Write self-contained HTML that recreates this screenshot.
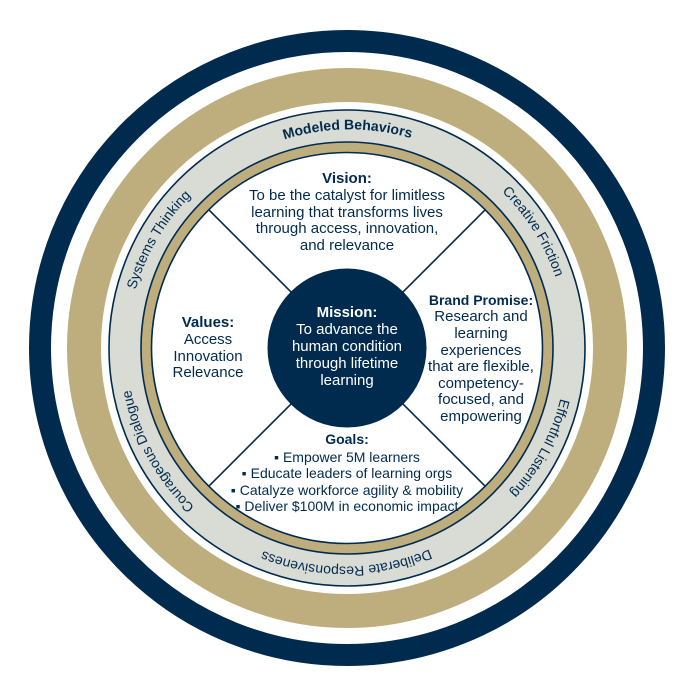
<!DOCTYPE html>
<html><head><meta charset="utf-8"><style>
html,body{margin:0;padding:0;background:#fff;}
svg{display:block;font-family:"Liberation Sans",Arial,sans-serif;}
</style></head><body>
<svg width="694" height="694" viewBox="0 0 694 694" xmlns="http://www.w3.org/2000/svg">
<defs>
<path id="ring" d="M455.5,535.9 A217,217 0 1 1 238.5,160.1 A217,217 0 1 1 455.5,535.9"/>
</defs>
<rect width="694" height="694" fill="#fff"/>
<circle cx="347" cy="348" r="307" fill="none" stroke="#002b4f" stroke-width="22"/>
<circle cx="347" cy="348" r="263" fill="none" stroke="#bfae7d" stroke-width="34"/>
<circle cx="347" cy="348" r="222" fill="none" stroke="#d8dcd5" stroke-width="32"/>
<circle cx="347" cy="348" r="238" fill="none" stroke="#002b4f" stroke-width="1.6"/>
<circle cx="347" cy="348" r="201" fill="none" stroke="#bfae7d" stroke-width="10"/>
<circle cx="347" cy="348" r="206" fill="none" stroke="#002b4f" stroke-width="1.6"/>
<circle cx="347" cy="348" r="195.5" fill="none" stroke="#002b4f" stroke-width="1.6"/>
<g stroke="#002b4f" stroke-width="1.6">
<line x1="291.1" y1="292.1" x2="209.1" y2="210.1"/>
<line x1="402.9" y1="292.1" x2="484.9" y2="210.1"/>
<line x1="291.1" y1="403.9" x2="209.1" y2="485.9"/>
<line x1="402.9" y1="403.9" x2="484.9" y2="485.9"/>
</g>
<circle cx="347" cy="348" r="79.5" fill="#002b4f"/>
<g fill="#002b4f" font-size="14" text-anchor="middle">
<text font-weight="bold"><textPath href="#ring" startOffset="58.33%">Modeled Behaviors</textPath></text>
<text><textPath href="#ring" startOffset="74.44%">Creative Friction</textPath></text>
<text><textPath href="#ring" startOffset="91%">Effortful Listening</textPath></text>
<text><textPath href="#ring" startOffset="8.33%">Deliberate Responsiveness</textPath></text>
<text><textPath href="#ring" startOffset="25.4%">Courageous Dialogue</textPath></text>
<text><textPath href="#ring" startOffset="41.67%">Systems Thinking</textPath></text>
</g>
<g fill="#002b4f" font-size="15" text-anchor="middle">
<text x="347" y="183" font-weight="bold">Vision:</text>
<text x="347" y="200">To be the catalyst for limitless</text>
<text x="347" y="217">learning that transforms lives</text>
<text x="347" y="233">through access, innovation,</text>
<text x="347" y="250">and relevance</text>
<text x="208" y="327" font-weight="bold">Values:</text>
<text x="208" y="344">Access</text>
<text x="208" y="361">Innovation</text>
<text x="208" y="377">Relevance</text>
<text x="481" y="305" font-weight="bold" font-size="14">Brand Promise:</text>
<text x="481" y="321">Research and</text>
<text x="481" y="338">learning</text>
<text x="481" y="355">experiences</text>
<text x="481" y="371">that are flexible,</text>
<text x="481" y="388">competency-</text>
<text x="481" y="404">focused, and</text>
<text x="481" y="421">empowering</text>
</g>
<g fill="#002b4f" font-size="14" text-anchor="middle">
<text x="347" y="444" font-weight="bold">Goals:</text>
<text x="347" y="462">▪ Empower 5M learners</text>
<text x="347" y="478">▪ Educate leaders of learning orgs</text>
<text x="347" y="495">▪ Catalyze workforce agility &amp; mobility</text>
<text x="347" y="511">▪ Deliver $100M in economic impact</text>
</g>
<g fill="#fff" font-size="15" text-anchor="middle">
<text x="347" y="317" font-weight="bold">Mission:</text>
<text x="347" y="334">To advance the</text>
<text x="347" y="351">human condition</text>
<text x="347" y="368">through lifetime</text>
<text x="347" y="385">learning</text>
</g>
</svg>
</body></html>
